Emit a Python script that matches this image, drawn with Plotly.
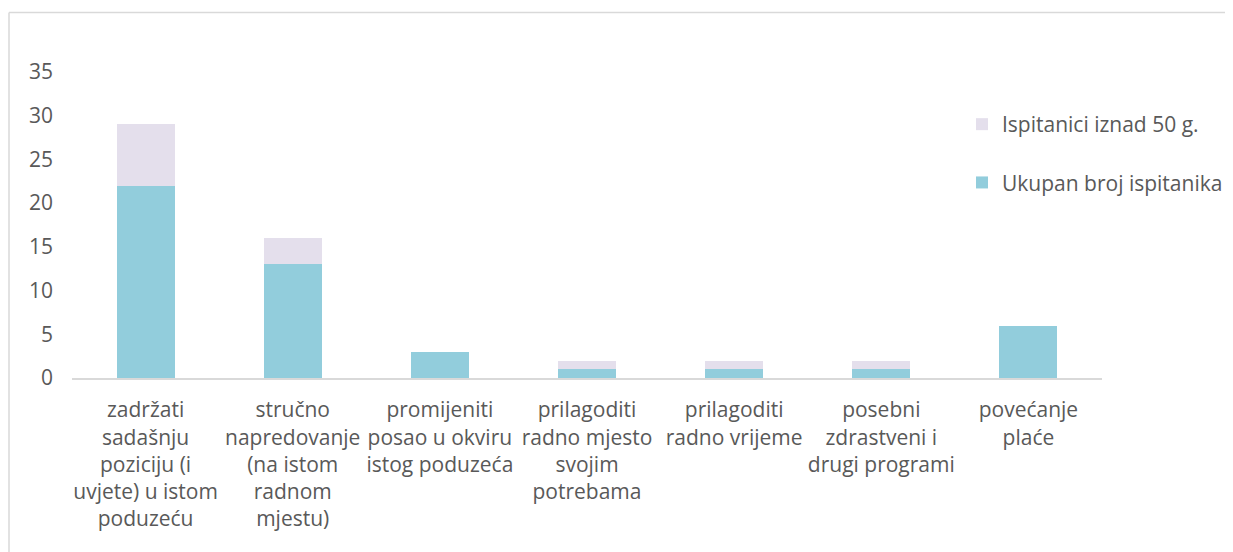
import plotly.graph_objects as go

categories = [
    "zadržati<br>sadašnju<br>poziciju (i<br>uvjete) u istom<br>poduzeću",
    "stručno<br>napredovanje<br>(na istom<br>radnom<br>mjestu)",
    "promijeniti<br>posao u okviru<br>istog poduzeća",
    "prilagoditi<br>radno mjesto<br>svojim<br>potrebama",
    "prilagoditi<br>radno vrijeme",
    "posebni<br>zdrastveni i<br>drugi programi",
    "povećanje<br>plaće",
]
ukupan = [22, 13, 3, 1, 1, 1, 6]
iznad50 = [7, 3, 0, 1, 1, 1, 0]
y_ticks = [0, 5, 10, 15, 20, 25, 30, 35]

FONT = "Open Sans"
TXT = "#595959"
FS = 21

fig = go.Figure()
fig.add_trace(go.Bar(x=categories, y=ukupan, name="Ukupan broj ispitanika",
                     marker=dict(color="#92CDDC", line=dict(width=0)),
                     legendgroup="b", legendrank=2))
fig.add_trace(go.Bar(x=categories, y=iznad50, name="Ispitanici iznad 50 g.",
                     marker=dict(color="#E4DFEC", line=dict(width=0)),
                     legendgroup="a", legendrank=1))

OFF = 8  # page offset of the figure
W, H = 1233 - OFF, 552 - OFF
L, R, T = 72 - OFF, 1233 - 1102, 72 - OFF
B = H - (378 - OFF)
pw = W - L - R
ph = H - T - B

def px(x):
    return (x - OFF - L) / pw

def py(y):
    return 1 - (y - OFF - T) / ph

fig.update_layout(
    width=W, height=H,
    barmode="stack", bargap=0.605,
    paper_bgcolor="white", plot_bgcolor="white",
    margin=dict(l=L, r=R, t=T, b=B, autoexpand=False),
    font=dict(family=FONT, size=FS, color=TXT),
    showlegend=True,
    legend=dict(x=px(962), y=py(104), xanchor="left", yanchor="top",
                traceorder="grouped", tracegroupgap=28,
                font=dict(family=FONT, size=FS, color=TXT),
                bgcolor="rgba(0,0,0,0)", itemwidth=30),
    xaxis=dict(showline=True, linecolor="#D9D9D9", linewidth=2, ticks="",
               tickfont=dict(family=FONT, size=FS, color=TXT), showgrid=False,
               ticklabelstandoff=12, fixedrange=True),
    yaxis=dict(range=[0, 35], tickvals=y_ticks, showgrid=False, showline=False,
               zeroline=False, ticks="", tickfont=dict(family=FONT, size=FS, color=TXT),
               ticklabelstandoff=18, fixedrange=True),
    shapes=[
        dict(type="line", xref="paper", yref="paper",
             x0=px(9), x1=px(1232), y0=py(12.5), y1=py(12.5),
             line=dict(color="#D9D9D9", width=1.5)),
        dict(type="line", xref="paper", yref="paper",
             x0=px(9), x1=px(9), y0=py(12.5), y1=py(560),
             line=dict(color="#D9D9D9", width=1.5)),
    ],
)

fig.write_html("out.html")
